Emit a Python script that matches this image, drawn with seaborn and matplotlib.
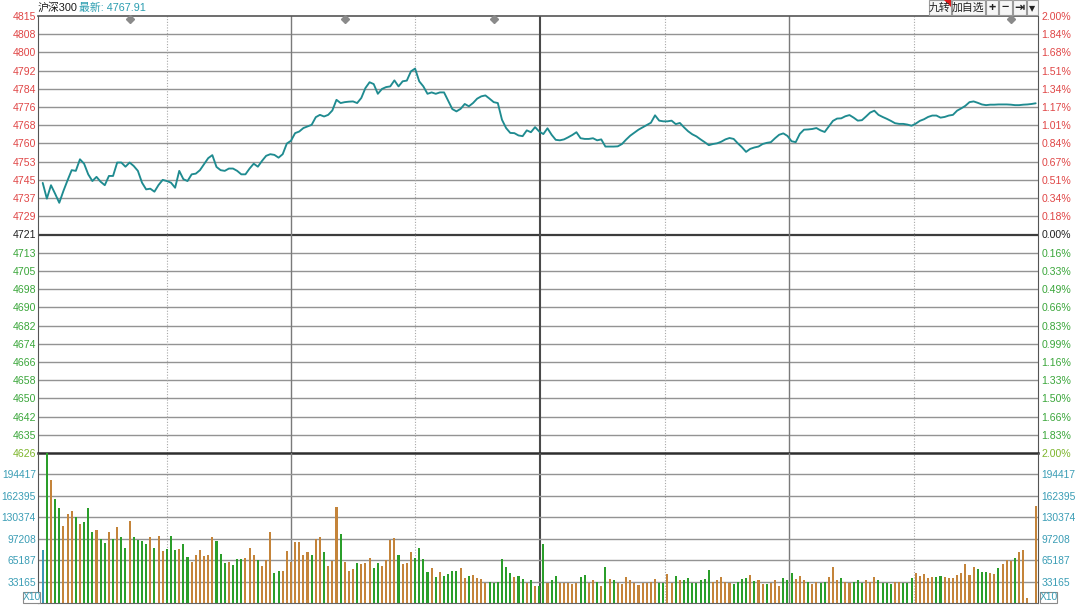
import numpy as np
import pandas as pd
import matplotlib
matplotlib.use("Agg")
import matplotlib.pyplot as plt
from matplotlib.patches import Rectangle, Polygon
import seaborn as sns

# -----------------------------
# Data
# -----------------------------

name = "沪深300"
latest = "最新: 4767.91"
prev_close = 4721.0

price = [
    4743.3, 4736.5, 4742.3, 4738.6, 4734.7, 4739.8, 4744.4, 4748.8, 4748.5, 4753.5,
    4751.6, 4747.0, 4744.1, 4745.9, 4743.8, 4742.3, 4746.3, 4746.3, 4752.1, 4752.1,
    4750.3, 4752.1, 4750.6, 4748.5, 4743.4, 4740.5, 4740.8, 4739.5, 4742.4, 4744.6,
    4744.1, 4743.4, 4741.2, 4748.5, 4744.9, 4744.1, 4747.0, 4747.3, 4748.8, 4751.4,
    4754.0, 4755.3, 4750.2, 4748.8, 4748.5, 4749.5, 4749.5, 4748.5, 4747.0, 4747.0,
    4749.5, 4751.6, 4750.3, 4752.8, 4755.0, 4755.7, 4755.4, 4754.2, 4755.7, 4760.3,
    4761.5, 4764.8, 4765.5, 4767.0, 4767.7, 4768.4, 4771.7, 4772.7, 4772.0, 4772.7,
    4774.6, 4779.2, 4777.8, 4778.2, 4778.4, 4778.5, 4777.8, 4780.0, 4784.3, 4786.8,
    4786.0, 4781.8, 4783.9, 4784.7, 4785.0, 4787.6, 4785.0, 4787.2, 4787.5, 4791.5,
    4792.7, 4787.2, 4785.0, 4781.8, 4782.4, 4781.8, 4782.4, 4782.4, 4778.8, 4775.2,
    4774.2, 4775.3, 4777.4, 4776.4, 4777.8, 4779.7, 4780.7, 4781.1, 4779.7, 4778.2,
    4777.8, 4770.6, 4767.0, 4764.9, 4764.8, 4763.8, 4763.5, 4766.0, 4765.2, 4767.4,
    4765.5, 4764.4, 4766.9, 4764.1, 4761.9, 4761.7, 4762.1, 4763.0, 4764.0, 4765.2,
    4762.6, 4762.3, 4762.3, 4762.6, 4761.7, 4762.1, 4759.0, 4759.0, 4759.0, 4759.1,
    4760.1, 4762.0, 4763.7, 4765.0, 4766.3, 4767.3, 4768.3, 4769.3, 4772.5, 4770.2,
    4769.9, 4769.9, 4770.2, 4768.7, 4769.2, 4767.3, 4765.6, 4764.3, 4763.4, 4762.1,
    4760.9, 4759.6, 4760.1, 4760.4, 4761.1, 4762.1, 4762.7, 4762.3, 4760.4, 4758.7,
    4756.7, 4758.0, 4758.6, 4759.0, 4760.1, 4760.6, 4760.9, 4762.6, 4764.1, 4764.7,
    4763.6, 4761.3, 4760.9, 4764.5, 4766.3, 4766.4, 4766.6, 4767.0, 4766.0, 4765.3,
    4767.7, 4770.1, 4771.1, 4771.2, 4772.1, 4772.6, 4771.5, 4770.2, 4770.4, 4772.0,
    4773.7, 4774.5, 4772.7, 4771.8, 4771.0, 4770.1, 4769.1, 4768.8, 4768.8, 4768.5,
    4768.0, 4768.9, 4770.1, 4770.8, 4771.8, 4772.4, 4772.4, 4771.5, 4771.8, 4772.4,
    4772.7, 4774.5, 4775.5, 4776.6, 4778.2, 4778.5, 4777.9, 4777.2, 4776.9, 4777.1,
    4777.1, 4777.2, 4777.2, 4777.2, 4777.1, 4776.9, 4776.9, 4777.1, 4777.2, 4777.4,
    4777.7,
]

volume = [
    80000, 226000, 184000, 156000, 143000, 116000, 133500, 138500, 129000, 119000,
    122000, 143000, 107000, 109500, 96000, 91000, 107000, 96000, 114500, 99000,
    83000, 123500, 100000, 94500, 93500, 89500, 99000, 83000, 101000, 78500,
    81500, 101000, 80000, 81500, 88500, 69500, 62500, 72000, 80000, 71000,
    73000, 99000, 93500, 74000, 60500, 61500, 57500, 66500, 67000, 67500,
    83000, 72000, 64500, 56000, 65000, 107000, 45000, 48000, 49000, 78000,
    62000, 92000, 92000, 72000, 77500, 73000, 96000, 100000, 76500, 56000,
    63000, 144000, 103500, 61500, 49000, 51500, 60500, 59000, 60500, 68000,
    52500, 60000, 56000, 64500, 95000, 98000, 72000, 59500, 60500, 77500,
    68000, 83000, 66000, 47000, 53000, 39000, 46500, 41000, 43500, 49000,
    48000, 52500, 38000, 41000, 42000, 38000, 36500, 31000, 32000, 31000,
    32500, 66000, 54500, 45500, 39500, 41000, 37000, 30000, 35500, 26000,
    26000, 89500, 30000, 35500, 41000, 30000, 31000, 31000, 29000, 31000,
    40000, 42000, 30000, 34500, 32000, 26500, 54000, 36000, 34500, 30000,
    29000, 39000, 34500, 30000, 27500, 31000, 30000, 32500, 36500, 30500,
    30500, 43500, 31000, 41000, 35500, 35500, 37500, 31000, 30000, 35500,
    36500, 49500, 32500, 35500, 40000, 32000, 31000, 28500, 32000, 37000,
    38000, 42500, 33000, 34500, 28500, 29000, 30500, 35500, 26500, 38000,
    34500, 45500, 36000, 41000, 35500, 32500, 29500, 32500, 31000, 32000,
    39000, 55000, 35500, 37500, 32500, 30500, 32500, 35500, 31000, 34500,
    32500, 39000, 35500, 30500, 30500, 29000, 32500, 32500, 30000, 30500,
    37500, 45500, 41000, 43500, 38000, 39000, 39000, 41000, 40000, 38000,
    38000, 42500, 45000, 58500, 42500, 54000, 51500, 46500, 46500, 45500,
    43500, 53500, 58500, 65000, 63000, 68500, 77500, 80000, 7500, 0,
    146000,
]

# t = opening auction, u = up minute, d = down minute
bar_dir = (
    "tdudduuudu" "ddduddudud" "dudddduduu" "dddudduuuu" "uudddudddu"
    "uuduuudduu" "uuuuuduudu" "uuduuuduuu" "dduuuuduuu" "ddddududdd"
    "duuduuuudd" "dddduddudu" "ddudduuuuu" "dduudududu" "uuuuuuuuud"
    "duududdddd" "dduuuuuddd" "duduuduuud" "dduuuduudd" "uuuduudddu"
    "uudddduudd" "duuuuudduu" "uuuuuudddu" "uduuuduuuu" "u"
)

left_labels = ["4815", "4808", "4800", "4792", "4784", "4776", "4768", "4760", "4753",
               "4745", "4737", "4729", "4721", "4713", "4705", "4698", "4690", "4682",
               "4674", "4666", "4658", "4650", "4642", "4635", "4626"]
right_labels = ["2.00%", "1.84%", "1.68%", "1.51%", "1.34%", "1.17%", "1.01%", "0.84%",
                "0.67%", "0.51%", "0.34%", "0.18%", "0.00%", "0.16%", "0.33%", "0.49%",
                "0.66%", "0.83%", "0.99%", "1.16%", "1.33%", "1.50%", "1.66%", "1.83%",
                "2.00%"]
vol_labels = ["33165", "65187", "97208", "130374", "162395", "194417"]

marker_minutes = [21, 73, 109, 234]
solid_minutes = [60, 180.4]
dotted_minutes = [30, 90, 150.4, 210.6]
noon_minute = 120.2

buttons = ["九转", "加自选", "+", "−", "⇥", "▾"]

# -----------------------------
# Style
# -----------------------------

sns.set_style("white")
plt.rcParams["font.family"] = ["Liberation Sans", "Noto Sans CJK SC", "DejaVu Sans"]

RED = "#e04646"
GREEN = "#3aa63a"
TEAL = "#1f8b90"
VOLTXT = "#3a9db5"
GRID = "#939393"

df = pd.DataFrame({"minute": np.arange(len(price)), "price": price,
                   "volume": volume, "dir": list(bar_dir)})

fig = plt.figure(figsize=(10.8, 6.06), dpi=100)
W, H = 1080, 606
ax = fig.add_axes([38 / W, (H - 453) / H, 1000 / W, 437 / H])
axv = fig.add_axes([38 / W, 2.7 / H, 1000 / W, 150.3 / H])

xmin, xmax = -1.14, 240.56

# -----------------------------
# Price panel
# -----------------------------

ylo, yhi = prev_close * 0.98, prev_close * 1.02
ticks = [prev_close * (1 + 0.02 * (12 - k) / 12) for k in range(25)]

for k, t in enumerate(ticks):
    if k == 12:
        ax.axhline(t, color="#3c3c3c", lw=1.6, zorder=1)
    elif k in (0, 24):
        continue
    else:
        ax.axhline(t, color=GRID, lw=1.0, zorder=1)

for a in (ax, axv):
    for m in solid_minutes:
        a.axvline(m, color="#7a7a7a", lw=1.0, zorder=1)
    for m in dotted_minutes:
        a.axvline(m, color="#a8a8a8", lw=0.8, ls=(0, (1, 1.5)), zorder=1)
    a.axvline(noon_minute, color="#4a4a4a", lw=1.5, zorder=1)

sns.lineplot(data=df, x="minute", y="price", color=TEAL, lw=1.35, ax=ax, zorder=3)

ax.plot(marker_minutes, [yhi - 1.35] * len(marker_minutes), ls="none", marker="D",
        ms=3.6, color="#8a8a8a", zorder=4, clip_on=False)

ax.set_xlim(xmin, xmax)
ax.set_ylim(ylo, yhi)
ax.set_xticks([])
ax.set_xlabel("")
ax.set_ylabel("")
ax.set_yticks(ticks, left_labels)
ax.tick_params(axis="y", length=0, pad=1.5, labelsize=7.6)

axr = ax.twinx()
axr.set_ylim(ylo, yhi)
axr.set_yticks(ticks, right_labels)
axr.tick_params(axis="y", length=0, pad=2.5, labelsize=7.6)


def label_color(k):
    if k < 12:
        return RED
    if k == 12:
        return "#222222"
    if k == 24:
        return "#7db52c"
    return GREEN


for k, lab in enumerate(ax.get_yticklabels()):
    lab.set_color(label_color(k))
for k, lab in enumerate(axr.get_yticklabels()):
    lab.set_color(label_color(k))

for a in (ax, axr):
    for s in a.spines.values():
        s.set_visible(False)
ax.spines["left"].set_visible(True)
ax.spines["left"].set_color("#555555")
ax.spines["right"].set_visible(True)
ax.spines["right"].set_color("#555555")
ax.spines["top"].set_visible(True)
ax.spines["top"].set_color("#555555")
ax.spines["top"].set_linewidth(1.2)
ax.spines["bottom"].set_visible(True)
ax.spines["bottom"].set_color("#2e2e2e")
ax.spines["bottom"].set_linewidth(1.8)
ax.set_facecolor("none")

# -----------------------------
# Volume panel
# -----------------------------

vtop = 225000
vticks = [vtop * k / 7 for k in range(1, 7)]
for t in vticks:
    axv.axhline(t, color=GRID, lw=1.0, zorder=1)

sns.barplot(data=df, x="minute", y="volume", hue="dir", native_scale=True,
            palette={"t": "#3b9ab4", "u": "#c4843a", "d": "#2a9e2a"},
            dodge=False, width=0.5, saturation=1, linewidth=0, errorbar=None,
            legend=False, ax=axv, zorder=2)

axv.set_xlim(xmin, xmax)
axv.set_ylim(0, vtop)
axv.set_xticks([])
axv.set_xlabel("")
axv.set_ylabel("")
axv.set_yticks(vticks, vol_labels)
axv.tick_params(axis="y", length=0, pad=1.5, labelsize=7.4, labelcolor=VOLTXT)
axvr = axv.twinx()
axvr.set_ylim(0, vtop)
axvr.set_yticks(vticks, vol_labels)
axvr.tick_params(axis="y", length=0, pad=2.5, labelsize=7.4, labelcolor=VOLTXT)
for a in (axv, axvr):
    for s in a.spines.values():
        s.set_visible(False)
axv.spines["left"].set_visible(True)
axv.spines["left"].set_color("#555555")
axv.spines["right"].set_visible(True)
axv.spines["right"].set_color("#555555")
axv.spines["bottom"].set_visible(True)
axv.spines["bottom"].set_color("#666666")
axv.set_facecolor("none")

# -----------------------------
# Header, buttons and small boxes
# -----------------------------

fig.text(38 / W, 1 - 8 / H, name, fontsize=7.8, color="#1a1a1a", va="center", ha="left")
fig.text(79 / W, 1 - 8 / H, latest, fontsize=7.8, color="#2a9db0", va="center", ha="left")

btn_edges = [929, 952, 986, 999, 1013, 1027, 1039]
for k, txt in enumerate(buttons):
    x0, x1 = btn_edges[k], btn_edges[k + 1]
    fig.add_artist(Rectangle((x0 / W, 1 - 15 / H), (x1 - x0 - 1) / W, 15 / H,
                             transform=fig.transFigure, fc="#f6f6f6", ec="#9a9a9a", lw=0.8))
    fig.text((x0 + x1 - 1) / 2 / W, 1 - 7.5 / H, txt, fontsize=7.8 if k < 2 else 8.8,
             color="#222222", ha="center", va="center", weight="bold" if 2 <= k <= 4 else "normal",
             family=["Noto Sans CJK SC", "DejaVu Sans"])
fig.add_artist(Polygon([(944 / W, 1), (951 / W, 1), (951 / W, 1 - 7 / H)], closed=True,
                       transform=fig.transFigure, fc="#e01818", ec="none"))

for x0 in (23, 1040):
    fig.add_artist(Rectangle((x0 / W, 3 / H), 17 / W, 11 / H, transform=fig.transFigure,
                             fc="white", ec="#8a8a8a", lw=0.8))
    fig.text((x0 + 8.5) / W, 8.5 / H, "X10", fontsize=7.4, color=VOLTXT,
             ha="center", va="center")

fig.savefig("out.png", dpi=100)
